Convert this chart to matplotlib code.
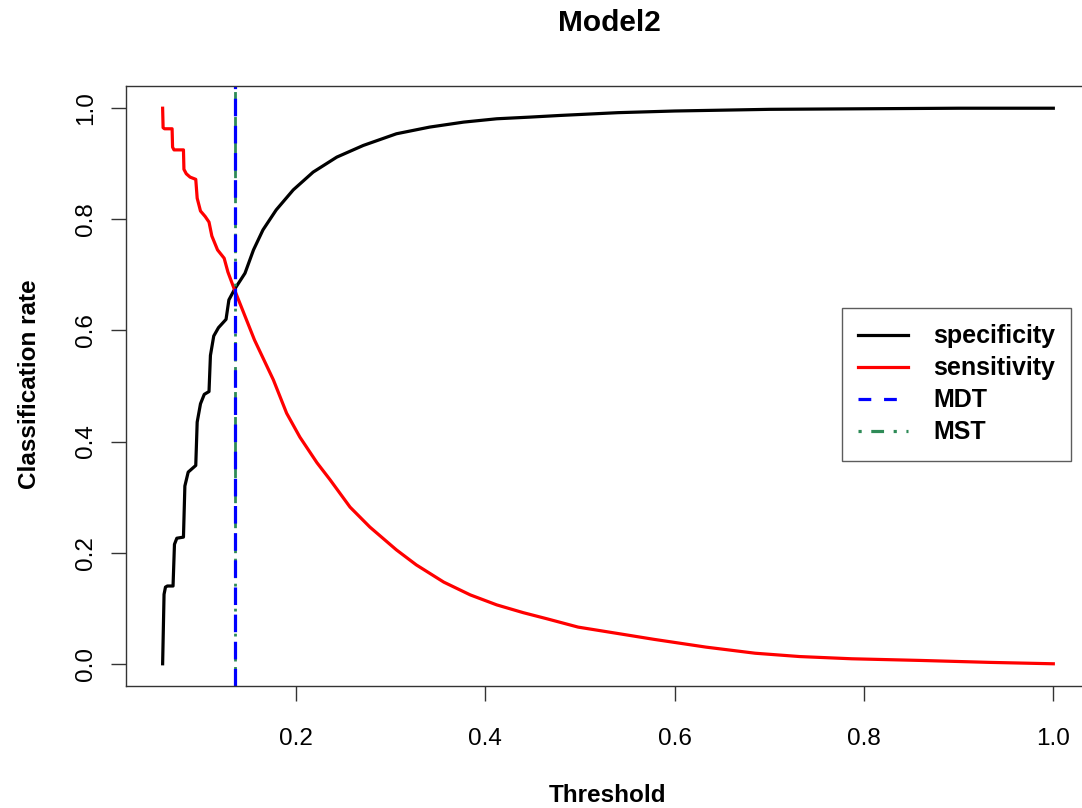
import matplotlib
matplotlib.use('Agg')
import matplotlib.pyplot as plt

plt.rcParams['font.family'] = ['Liberation Sans', 'DejaVu Sans']

# specificity curve (threshold, rate)
spec_x = [0.059, 0.0605, 0.062, 0.064, 0.070, 0.0715, 0.074, 0.081, 0.0825, 0.086,
          0.094, 0.0955, 0.099, 0.103, 0.108, 0.1095, 0.113, 0.118, 0.126, 0.129,
          0.135, 0.146, 0.155, 0.165, 0.179, 0.197, 0.218, 0.243, 0.271, 0.306,
          0.341, 0.377, 0.412, 0.447, 0.479, 0.54, 0.60, 0.70, 0.80, 0.90, 1.0]
spec_y = [0.0, 0.125, 0.138, 0.14, 0.14, 0.215, 0.226, 0.228, 0.32, 0.345,
          0.357, 0.435, 0.468, 0.485, 0.49, 0.555, 0.59, 0.605, 0.62, 0.655,
          0.674, 0.703, 0.745, 0.781, 0.817, 0.853, 0.885, 0.912, 0.933, 0.954,
          0.966, 0.975, 0.981, 0.984, 0.987, 0.992, 0.995, 0.998, 0.999, 1.0, 1.0]

# sensitivity curve (threshold, rate)
sens_x = [0.059, 0.0595, 0.061, 0.069, 0.0695, 0.071, 0.081, 0.0815, 0.084, 0.088,
          0.094, 0.0955, 0.099, 0.104, 0.108, 0.111, 0.117, 0.124, 0.128,
          0.135, 0.156, 0.176, 0.190, 0.204, 0.222, 0.236, 0.257, 0.278, 0.306,
          0.327, 0.356, 0.384, 0.412, 0.440, 0.465, 0.498, 0.549, 0.578, 0.633,
          0.685, 0.732, 0.787, 0.860, 0.933, 1.0]
sens_y = [1.0, 0.965, 0.963, 0.963, 0.93, 0.925, 0.925, 0.89, 0.882, 0.876,
          0.872, 0.838, 0.815, 0.805, 0.795, 0.77, 0.745, 0.73, 0.705,
          0.673, 0.583, 0.511, 0.451, 0.408, 0.362, 0.331, 0.282, 0.246, 0.205,
          0.178, 0.147, 0.124, 0.106, 0.092, 0.081, 0.066, 0.052, 0.044, 0.030,
          0.019, 0.013, 0.009, 0.006, 0.0025, 0.0]

mdt = 0.1355
mst = 0.1355

fig = plt.figure(figsize=(10.82, 8.08), dpi=100)
ax = fig.add_axes([126/1082, 1-686/808, 963/1082, 600/808])

ax.plot(spec_x, spec_y, color='black', lw=2.3, label='specificity')
ax.plot(sens_x, sens_y, color='red', lw=2.3, label='sensitivity')
ax.axvline(mst, color='seagreen', lw=2.0, ls=(0, (1, 2, 4, 2)), label='_nolegend_')
ax.axvline(mdt, color='blue', lw=2.3, ls=(0, (5.5, 3)), label='_nolegend_')

# legend handles in R order
h1, = ax.plot([], [], color='black', lw=2.3)
h2, = ax.plot([], [], color='red', lw=2.3)
h3, = ax.plot([], [], color='blue', lw=2.3, ls=(0, (4, 4)))
h4, = ax.plot([], [], color='seagreen', lw=2.3, ls=(0, (1, 3, 4, 3)))
leg = ax.legend([h1, h2, h3, h4], ['specificity', 'sensitivity', 'MDT', 'MST'],
                loc='upper left', bbox_to_anchor=(0.7435, 0.63), borderaxespad=0,
                frameon=True, fancybox=False, edgecolor='#333333',
                prop={'weight': 'bold', 'size': 18}, handlelength=2.0,
                handletextpad=1.0, labelspacing=0.32, borderpad=0.65)
leg.get_frame().set_linewidth(1.0)

ax.set_xlim(0.0203, 1.0377)
ax.set_ylim(-0.04, 1.04)
ax.set_xticks([0.2, 0.4, 0.6, 0.8, 1.0])
ax.set_xticklabels(['0.2', '0.4', '0.6', '0.8', '1.0'])
ax.set_yticks([0.0, 0.2, 0.4, 0.6, 0.8, 1.0])
ax.set_yticklabels(['0.0', '0.2', '0.4', '0.6', '0.8', '1.0'], rotation=90, va='center')
ax.tick_params(axis='both', direction='out', length=11, width=1, labelsize=17.5, color='#333333')
ax.tick_params(axis='x', pad=19)
ax.tick_params(axis='y', pad=10)
for s in ax.spines.values():
    s.set_linewidth(1.0)
    s.set_color('#333333')

fig.text(0.5629, 1-23/808, 'Model2', ha='center', va='center', fontsize=21.5, fontweight='bold')
fig.text(0.5615, 1-795/808, 'Threshold', ha='center', va='center', fontsize=17.5, fontweight='bold')
fig.text(30/1082, 1-384/808, 'Classification rate', ha='center', va='center',
         rotation=90, fontsize=17.5, fontweight='bold')

fig.savefig('out.png', dpi=100)
